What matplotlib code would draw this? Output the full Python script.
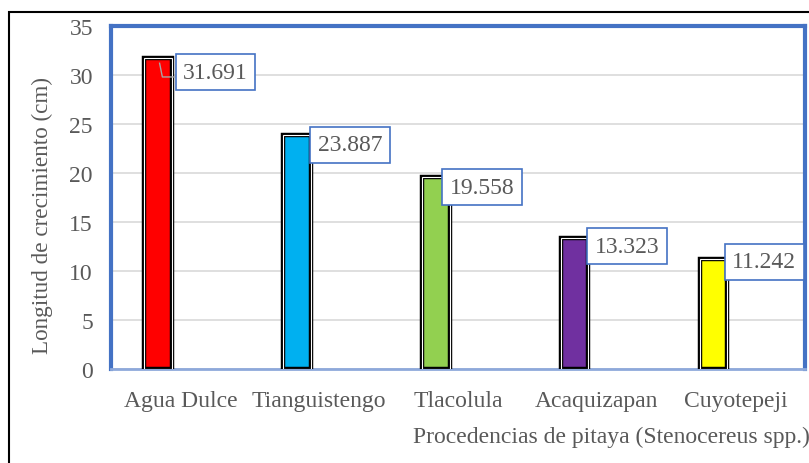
import matplotlib.pyplot as plt
from matplotlib.patches import Rectangle
import numpy as np

# growth length by origin
procedencias = ["Agua Dulce", "Tianguistengo", "Tlacolula", "Acaquizapan", "Cuyotepeji"]
longitud = [31.691, 23.887, 19.558, 13.323, 11.242]
colores = ["#FF0000", "#00B0F0", "#92D050", "#7030A0", "#FFFF00"]

# label box offsets (pixels) relative to bar's right edge / top
dx_lbl = [11, 7, 0, 6, 5]
dy_lbl = [-14, -10, -10, -8, -3]

plt.rcParams["font.family"] = ["Liberation Serif", "DejaVu Serif"]
gris = "#595959"
azul = "#4472C4"

fig = plt.figure(figsize=(8.09, 4.64), dpi=100)
ax = fig.add_axes([111 / 809, 1 - 370 / 464, 694 / 809, 343 / 464])

x = np.arange(len(procedencias))
xb = x - 0.16
w = 0.2
ax.bar(xb, longitud, width=w, color=colores, edgecolor="black", linewidth=3.2, zorder=3)
ax.bar(xb, longitud, width=w, color="none", edgecolor="white", linewidth=0.8, zorder=4)

for i, v in enumerate(longitud):
    ax.annotate(f"{v:.3f}", xy=(xb[i] + w / 2, v), xytext=(dx_lbl[i], dy_lbl[i]),
                textcoords="offset pixels", ha="left", va="center",
                fontsize=17, color=gris, zorder=6,
                bbox=dict(boxstyle="square,pad=0.32", fc="white", ec=azul, lw=1.2))

# leader line for the first label
ax.plot([xb[0] + 0.01, xb[0] + 0.03, xb[0] + 0.12], [31.2, 29.8, 29.8],
        color="#a6a6a6", lw=1, zorder=5)

ax.set_xlim(-0.5, 4.5)
ax.set_ylim(0, 35)
ax.set_yticks(range(0, 36, 5))
ax.set_xticks(x)
ax.set_xticklabels(procedencias)
ax.tick_params(axis="both", length=0, labelsize=17, labelcolor=gris)
ax.tick_params(axis="y", pad=13)
ax.tick_params(axis="x", pad=15)
ax.grid(axis="y", color="#d9d9d9", lw=1.2, zorder=0)
ax.set_axisbelow(True)

for s in ["left", "top", "right"]:
    ax.spines[s].set_color(azul)
    ax.spines[s].set_linewidth(3)
ax.spines["bottom"].set_color("#8ea9db")
ax.spines["bottom"].set_linewidth(2)

fig.text(42 / 809, 1 - 216 / 464, "Longitud de crecimiento (cm)", rotation=90,
         fontsize=16.7, color=gris, ha="center", va="center")
fig.text(413 / 809, 1 - 437 / 464, "Procedencias de pitaya (Stenocereus spp.)",
         fontsize=17, color=gris, ha="left", va="center")

# outer chart border
fig.patches.append(Rectangle((9 / 809, -0.05), 1.2, 1.05 - 13 / 464,
                             transform=fig.transFigure, fill=False,
                             ec="black", lw=1.5, zorder=0))

fig.savefig("out.png", dpi=100)
